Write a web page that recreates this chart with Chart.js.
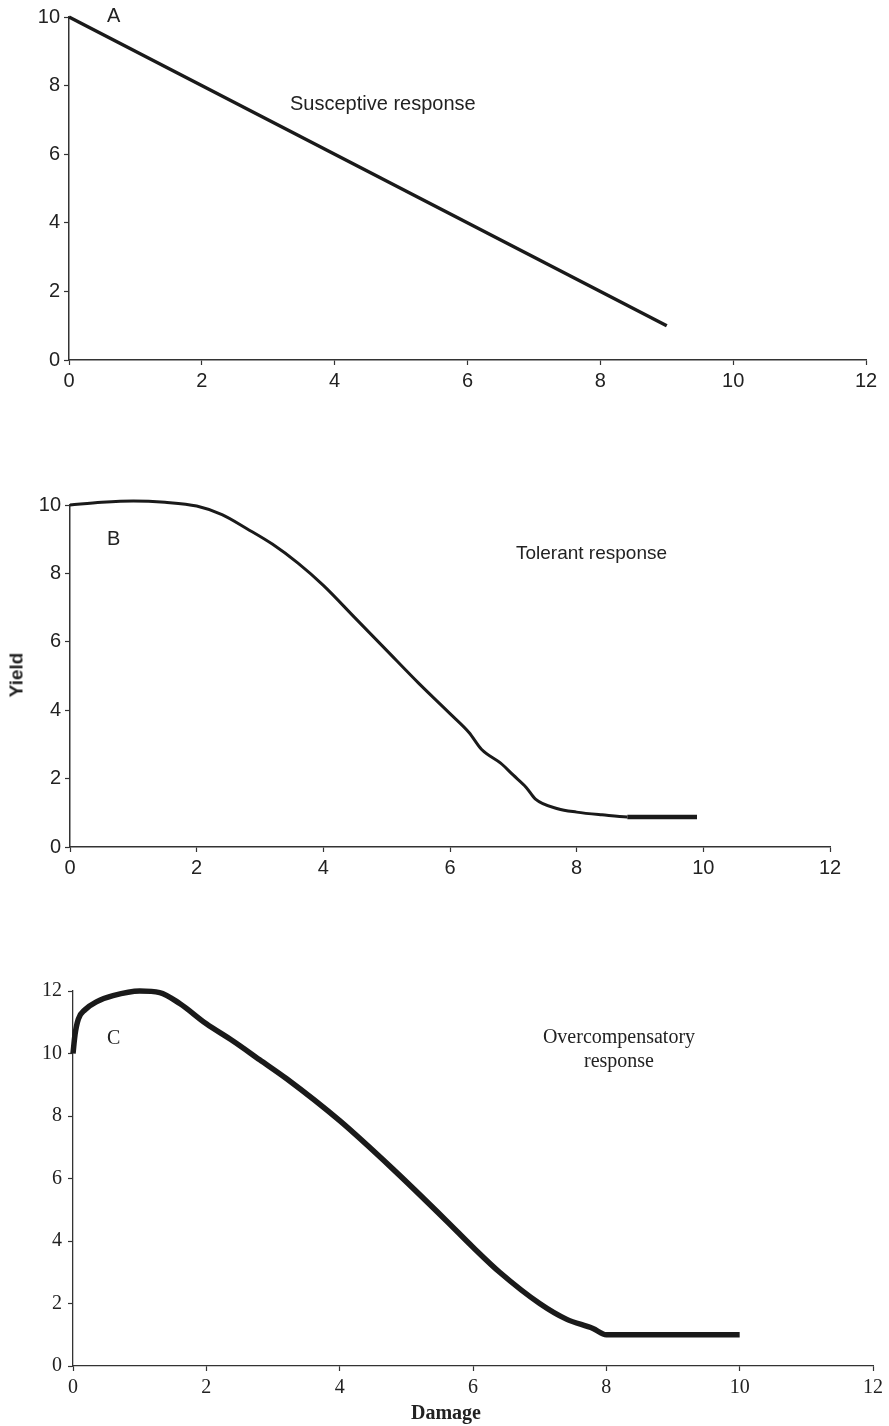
<!DOCTYPE html>
<html>
<head>
<meta charset="utf-8">
<script src="https://cdn.jsdelivr.net/npm/chart.js@4.4.1/dist/chart.umd.min.js"></script>
<style>
  html, body { margin: 0; padding: 0; background: #fff; }
  body { width: 889px; height: 1426px; position: relative; overflow: hidden; }
  .wrap { position: absolute; left: 0; width: 889px; }
  .lbl { position: absolute; color: #222; white-space: nowrap; line-height: 1; }
  .sans { font-family: "Liberation Sans", Arial, sans-serif; }
  .serif { font-family: "Liberation Serif", "Times New Roman", serif; }
</style>
</head>
<body>
<div class="wrap" id="wA" style="top:0;height:400px;"><canvas id="cA"></canvas></div>
<div class="wrap" id="wB" style="top:440px;height:440px;"><canvas id="cB"></canvas></div>
<div class="wrap" id="wC" style="top:940px;height:486px;"><canvas id="cC"></canvas></div>

<div class="lbl sans" style="left:107px;top:5px;font-size:20px;">A</div>
<div class="lbl sans" style="left:290px;top:93px;font-size:20px;">Susceptive response</div>
<div class="lbl sans" style="left:107px;top:528px;font-size:20px;">B</div>
<div class="lbl sans" style="left:516px;top:543px;font-size:19px;">Tolerant response</div>
<div class="lbl serif" style="left:107px;top:1027px;font-size:20px;">C</div>
<div class="lbl serif" style="left:540px;top:1024px;font-size:20px;width:158px;text-align:center;line-height:24px;">Overcompensatory<br>response</div>
<div class="lbl sans" style="left:16px;top:675px;font-size:19px;font-weight:bold;transform:translate(-50%,-50%) rotate(-90deg);">Yield</div>
<div class="lbl serif" style="left:446px;top:1412px;font-size:20px;font-weight:bold;transform:translate(-50%,-50%);">Damage</div>

<script>
// ---- Data ----
const aX = [0, 9];
const aY = [10, 1];

const bX = [0, 0.5, 1, 1.5, 2, 2.4, 2.8, 3.2, 3.6, 4, 4.5, 5, 5.5, 6, 6.3, 6.5, 6.8, 7, 7.2, 7.35, 7.7, 8, 8.4, 8.8, 9.9];
const bY = [10, 10.08, 10.12, 10.08, 9.97, 9.72, 9.3, 8.85, 8.3, 7.65, 6.7, 5.75, 4.8, 3.9, 3.35, 2.85, 2.45, 2.1, 1.75, 1.4, 1.12, 1.02, 0.94, 0.88, 0.88];

const cX = [0, 0.03, 0.08, 0.18, 0.35, 0.6, 1.0, 1.3, 1.6, 2.0, 2.4, 2.8, 3.2, 4.0, 4.8, 5.6, 6.0, 6.4, 7.0, 7.4, 7.8, 8.0, 10];
const cY = [10, 10.6, 11.1, 11.4, 11.65, 11.85, 12.0, 11.95, 11.6, 10.95, 10.4, 9.8, 9.2, 7.85, 6.3, 4.65, 3.8, 3.0, 2.0, 1.5, 1.2, 1.0, 1.0];

const xTicks = [0, 2, 4, 6, 8, 10, 12];
const yTicksAB = [0, 2, 4, 6, 8, 10];
const yTicksC = [0, 2, 4, 6, 8, 10, 12];

function pts(xs, ys) { return xs.map((x, i) => ({ x: x, y: ys[i] })); }

function makeChart(id, cfg) {
  const font = { family: cfg.family, size: cfg.fontSize };
  return new Chart(document.getElementById(id), {
    type: 'line',
    data: {
      datasets: [{
        data: pts(cfg.xs, cfg.ys),
        borderColor: '#1a1a1a',
        borderWidth: cfg.lw,
        pointRadius: 0,
        fill: false,
        clip: false,
        cubicInterpolationMode: cfg.smooth ? 'monotone' : 'default',
        borderCapStyle: 'butt',
        borderJoinStyle: 'round',
        segment: cfg.segment || {}
      }]
    },
    options: {
      responsive: true,
      maintainAspectRatio: false,
      animation: false,
      events: [],
      layout: { padding: { left: 0, top: cfg.top, right: cfg.right, bottom: 0 } },
      plugins: { legend: { display: false }, tooltip: { enabled: false } },
      scales: {
        x: {
          type: 'linear', min: 0, max: 12,
          afterBuildTicks: s => { s.ticks = xTicks.map(v => ({ value: v })); },
          afterFit: s => { s.height = cfg.xh; },
          ticks: { color: '#222', font: font, padding: cfg.xpad, maxRotation: 0 },
          grid: { drawOnChartArea: false, drawTicks: true, tickLength: 5, tickColor: '#333', tickWidth: 1.2 },
          border: { display: true, color: '#333', width: cfg.axw }
        },
        y: {
          type: 'linear', min: 0, max: cfg.ymax,
          afterBuildTicks: s => { s.ticks = cfg.yTicks.map(v => ({ value: v })); },
          afterFit: s => { s.width = cfg.left; },
          ticks: { color: '#222', font: font, padding: cfg.ypad },
          grid: { drawOnChartArea: false, drawTicks: true, tickLength: 5, tickColor: '#333', tickWidth: 1.2 },
          border: { display: true, color: '#333', width: cfg.axw }
        }
      }
    }
  });
}

makeChart('cA', { xs: aX, ys: aY, lw: 3.5, smooth: false, family: '"Liberation Sans", Arial, sans-serif', fontSize: 20,
  top: 17, right: 23, left: 69, xh: 40, xpad: 4, ypad: 4, ymax: 10, yTicks: yTicksAB, axw: 1.5 });

makeChart('cB', { xs: bX, ys: bY, lw: 3, smooth: true, family: '"Liberation Sans", Arial, sans-serif', fontSize: 20,
  top: 65, right: 59, left: 70, xh: 33, xpad: 4, ypad: 4, ymax: 10, yTicks: yTicksAB, axw: 1.5,
  segment: { borderWidth: ctx => (ctx.p0.parsed.x >= 8.8 ? 4.5 : 3) } });

makeChart('cC', { xs: cX, ys: cY, lw: 5.5, smooth: true, family: '"Liberation Serif", "Times New Roman", serif', fontSize: 20,
  top: 51, right: 16, left: 73, xh: 60, xpad: 5, ypad: 6, ymax: 12, yTicks: yTicksC, axw: 1.3 });
</script>
</body>
</html>
